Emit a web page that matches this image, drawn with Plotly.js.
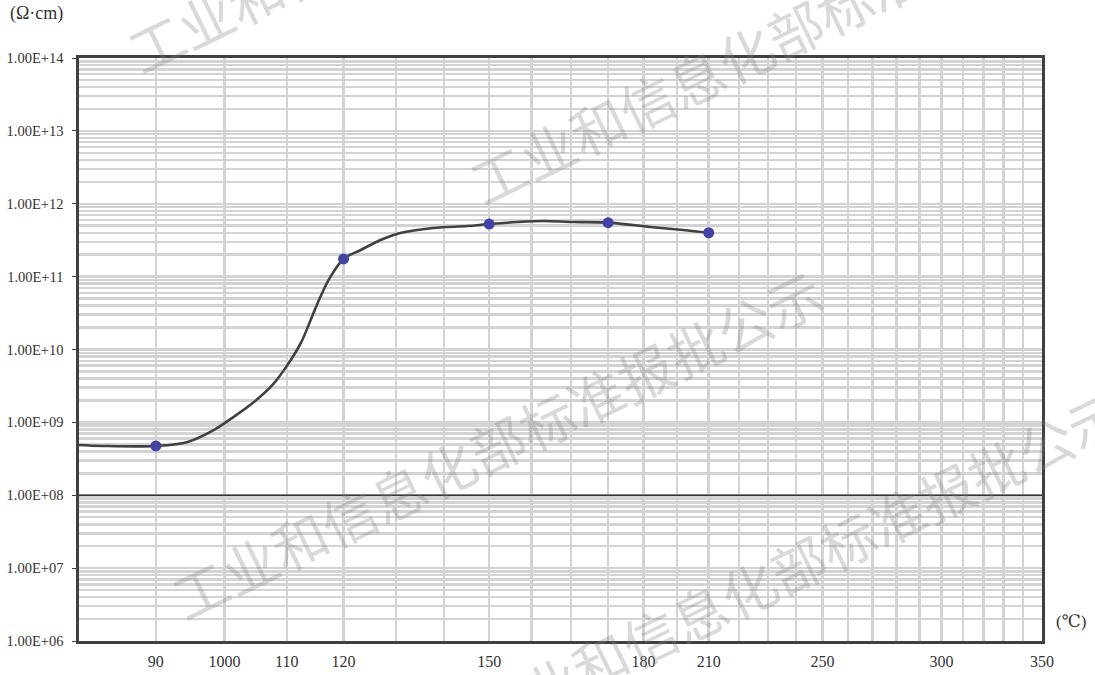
<!DOCTYPE html>
<html>
<head>
<meta charset="utf-8">
<script src="https://cdn.plot.ly/plotly-3.0.1.min.js"></script>
<style>
  html, body { margin: 0; padding: 0; background: #ffffff; }
  #chart { width: 1095px; height: 675px; }
</style>
</head>
<body>
<div id="chart"></div>
<script>
// ---- data ----
const temps = [90, 120, 150, 180, 210];                          // °C (marked points)
const resistivity = [4.75e8, 1.75e11, 5.27e11, 5.5e11, 4.0e11];  // Ω·cm
// smoothed curve
const curveTemps = [80, 83, 90, 94.5, 98.4, 101.4, 104.6, 107.8, 110.1, 112.4, 114.1, 115.8,
                    117.6, 120, 123.2, 127, 130.9, 137.7, 145.1, 150, 156.6, 163, 170.6, 180,
                    192, 201.9, 210];
const curveValues = [4.9e8, 4.75e8, 4.75e8, 5.4e8, 7.9e8, 1.19e9, 1.9e9, 3.4e9, 6.1e9, 1.23e10,
                     2.54e10, 5.25e10, 9.9e10, 1.75e11, 2.32e11, 3.18e11, 3.97e11, 4.65e11, 4.95e11,
                     5.27e11, 5.62e11, 5.8e11, 5.62e11, 5.5e11, 4.8e11, 4.36e11, 4.0e11];

const xTickVals = [90, 100, 110, 120, 150, 190, 210, 250, 300, 350];
const xTickText = ['90', '1000', '110', '120', '150', '180', '210', '250', '300', '350'];
const yTickVals = [1e6, 1e7, 1e8, 1e9, 1e10, 1e11, 1e12, 1e13, 1e14];
const yTickText = ['1.00E+06', '1.00E+07', '1.00E+08', '1.00E+09', '1.00E+10',
                   '1.00E+11', '1.00E+12', '1.00E+13', '1.00E+14'];
const yUnit = '(Ω·cm)';
const xUnit = '(℃)';
const watermark = '工业和信息化部标准报批公示';
const refLevel = 1e8;

// ---- axis helpers ----
const xMinorVals = [];
for (let t = 90; t <= 340; t += 10) xMinorVals.push(t);
const yMinorVals = [];
for (let e = 6; e < 14; e++) for (let d = 2; d <= 9; d++) yMinorVals.push(d * Math.pow(10, e));

const serif = 'Liberation Serif, DejaVu Serif, serif';
const gridC = '#d3d3d3';
const axisC = '#404040';

const traces = [
  {
    x: curveTemps, y: curveValues, type: 'scatter', mode: 'lines',
    line: { color: '#404040', width: 2.6, shape: 'spline', smoothing: 1 },
    hoverinfo: 'skip', showlegend: false
  },
  {
    x: temps, y: resistivity, type: 'scatter', mode: 'markers',
    marker: { color: '#4343a3', size: 11 },
    showlegend: false
  }
];

function wm(x, y) {
  return {
    text: watermark, xref: 'paper', yref: 'paper', x: x, y: y,
    xanchor: 'center', yanchor: 'middle',
    showarrow: false, textangle: -26,
    font: { family: 'Noto Sans CJK SC', size: 55, color: 'rgba(130,130,130,0.30)' }
  };
}

const layout = {
  width: 1095, height: 675,
  margin: { l: 79, r: 53, t: 58, b: 34 },
  paper_bgcolor: '#ffffff', plot_bgcolor: '#ffffff',
  showlegend: false,
  xaxis: {
    type: 'log',
    range: [Math.log10(80), Math.log10(350)],
    tickmode: 'array', tickvals: xTickVals, ticktext: xTickText,
    ticks: '', ticklabelstandoff: 4,
    tickfont: { family: serif, size: 16, color: '#333333' },
    showgrid: true, gridcolor: gridC, gridwidth: 2.5,
    minor: { tickmode: 'array', tickvals: xMinorVals, showgrid: true, gridcolor: gridC, gridwidth: 2.5, ticks: '' },
    showline: true, linecolor: axisC, linewidth: 2.6, mirror: true,
    zeroline: false
  },
  yaxis: {
    type: 'log',
    range: [6, 14],
    tickmode: 'array', tickvals: yTickVals, ticktext: yTickText,
    ticks: 'outside', ticklen: 4, tickcolor: axisC, tickwidth: 1,
    ticklabelstandoff: 6,
    tickfont: { family: serif, size: 14.5, color: '#333333' },
    showgrid: true, gridcolor: gridC, gridwidth: 2.5,
    minor: { tickmode: 'array', tickvals: yMinorVals, showgrid: true, gridcolor: gridC, gridwidth: 2.5, ticks: '' },
    showline: true, linecolor: axisC, linewidth: 2.6, mirror: true,
    zeroline: false
  },
  shapes: [
    { type: 'line', xref: 'paper', x0: 0, x1: 1, yref: 'y', y0: refLevel, y1: refLevel,
      line: { color: '#333333', width: 1.5 }, layer: 'above' }
  ],
  annotations: [
    wm(0.434, 0.340),
    wm(0.7435, 1.0515),
    wm(0.7466, 0.1338),
    wm(0.388, 1.276),
    { text: yUnit, xref: 'paper', yref: 'paper', x: -0.074, y: 1.0755,
      xanchor: 'left', yanchor: 'middle', showarrow: false,
      font: { family: serif, size: 18, color: '#333333' } },
    { text: xUnit, xref: 'paper', yref: 'paper', x: 1.0125, y: 0.0343,
      xanchor: 'left', yanchor: 'middle', showarrow: false,
      font: { family: serif, size: 17, color: '#333333' } }
  ]
};

Plotly.newPlot('chart', traces, layout, { displayModeBar: false, staticPlot: true });
</script>
</body>
</html>
